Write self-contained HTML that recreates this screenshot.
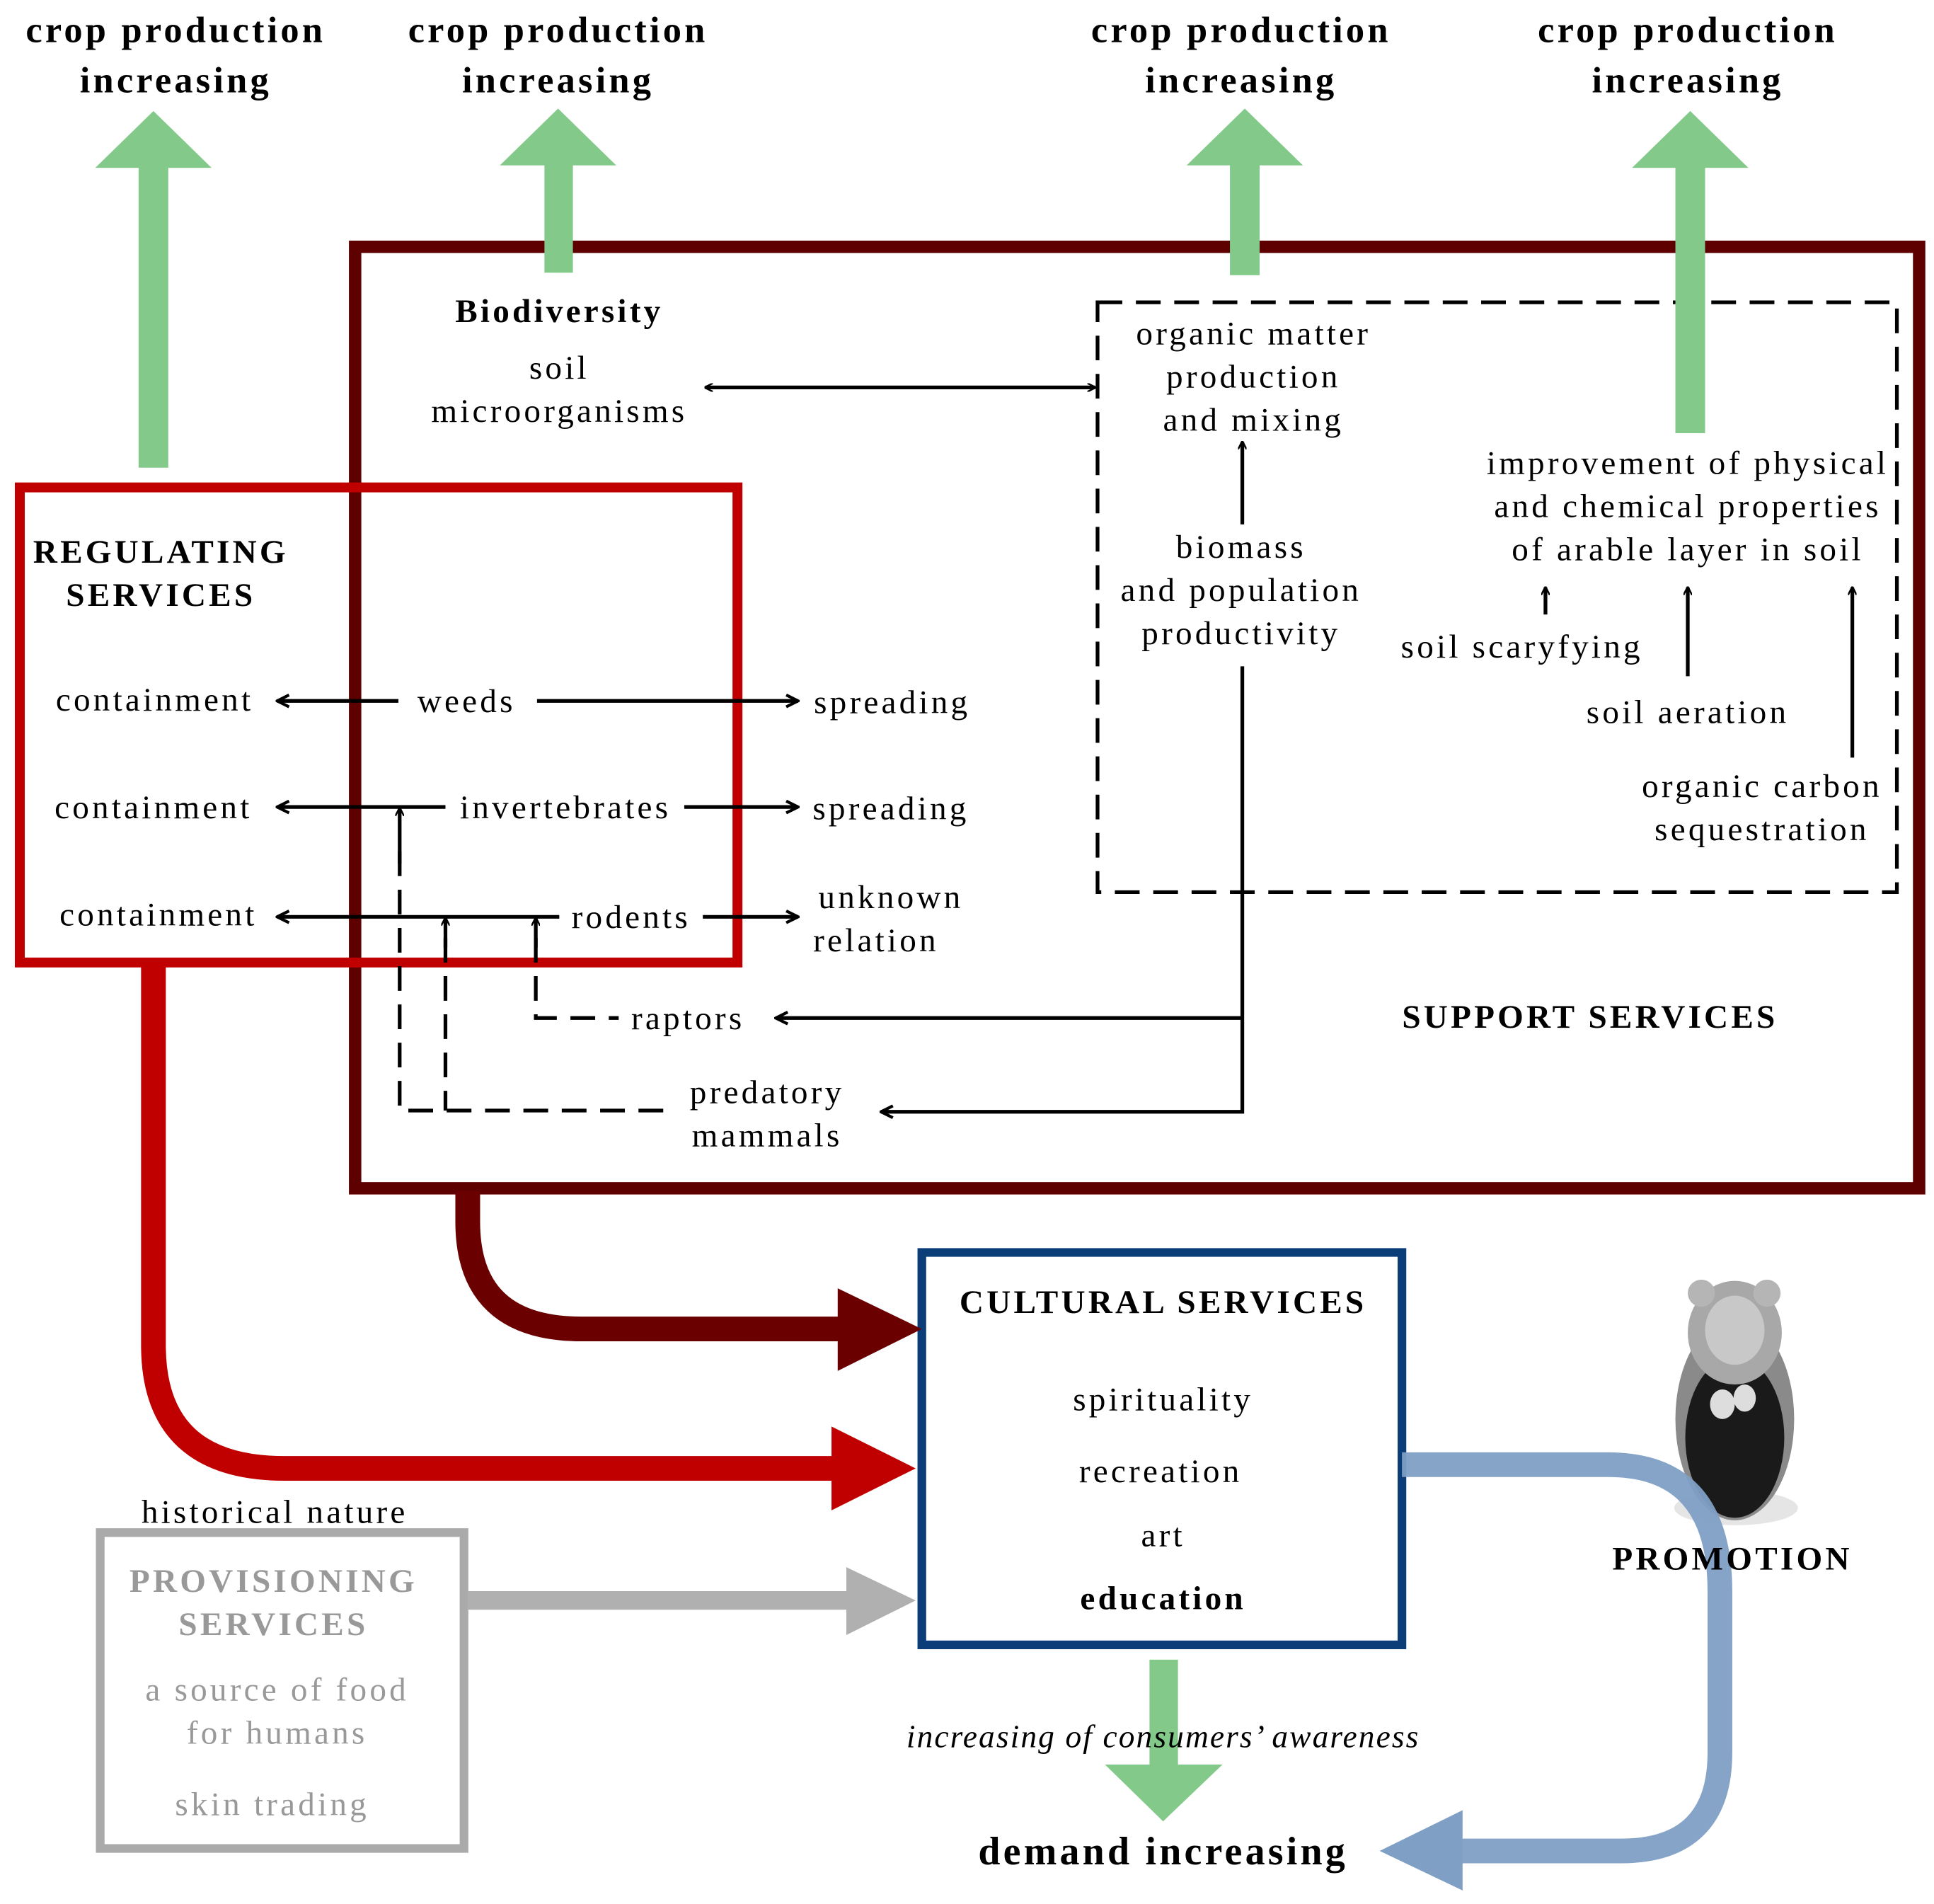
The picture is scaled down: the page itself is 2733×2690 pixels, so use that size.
<!DOCTYPE html>
<html><head><meta charset="utf-8"><style>
html,body{margin:0;padding:0;background:#fff;width:2733px;height:2690px;overflow:hidden}
svg{display:block}
text{font-family:"Liberation Serif",serif;fill:#000;letter-spacing:2.4px}
</style></head><body>
<svg width="2733" height="2690" viewBox="0 0 1563 1543" preserveAspectRatio="none" xmlns="http://www.w3.org/2000/svg">
<defs>
<marker id="ah" viewBox="0 0 10 10" refX="9" refY="5" markerWidth="7" markerHeight="7" orient="auto-start-reverse" markerUnits="userSpaceOnUse"><path d="M0,0 L10,5 L0,10" fill="none" stroke="#000" stroke-width="2"/></marker>
<marker id="ah2" viewBox="0 0 10 10" refX="9" refY="5" markerWidth="12" markerHeight="12" orient="auto-start-reverse" markerUnits="userSpaceOnUse"><path d="M1,1 L9,5 L1,9" fill="none" stroke="#000" stroke-width="2"/></marker>
</defs>

<rect x="287" y="200" width="1264" height="763" fill="none" stroke="#5e0000" stroke-width="10"/>
<rect x="16" y="395" width="580" height="385" fill="none" stroke="#c00000" stroke-width="8"/>
<rect x="887" y="245" width="646" height="478" fill="none" stroke="#000" stroke-width="3" stroke-dasharray="20,11"/>
<rect x="745" y="1015" width="388" height="318" fill="none" stroke="#0b3d78" stroke-width="7"/>
<rect x="81" y="1242" width="294" height="256" fill="none" stroke="#aaa" stroke-width="7"/>

<g fill="#82c98a">
<rect x="112" y="133" width="24" height="246"/><polygon points="77,136 171,136 124,90"/>
<rect x="440" y="131" width="23" height="90"/><polygon points="404,134 498,134 451,88"/>
<rect x="994" y="131" width="24" height="92"/><polygon points="959,134 1053,134 1006,88"/>
<rect x="1354" y="133" width="24" height="218"/><polygon points="1319,136 1413,136 1366,90"/>
<rect x="929" y="1345" width="23" height="88"/><polygon points="893,1430 988,1430 940,1476"/>
</g>

<path d="M124,782 L124,1090 Q124,1190 230,1190 L680,1190" fill="none" stroke="#c00000" stroke-width="20"/>
<polygon points="672,1156 740,1190 672,1224" fill="#c00000"/>
<path d="M378,965 L378,990 Q378,1077 470,1077 L685,1077" fill="none" stroke="#6a0000" stroke-width="20"/>
<polygon points="677,1044 745,1077 677,1111" fill="#6a0000"/>
<path d="M378,1297 L690,1297" fill="none" stroke="#b0b0b0" stroke-width="15"/>
<polygon points="684,1270 740,1297 684,1325" fill="#b0b0b0"/>

<g>
<ellipse cx="1403" cy="1222" rx="50" ry="14" fill="#e5e5e5"/>
<ellipse cx="1402" cy="1150" rx="48" ry="82" fill="#8a8a8a"/>
<ellipse cx="1402" cy="1165" rx="40" ry="65" fill="#1a1a1a"/>
<ellipse cx="1402" cy="1080" rx="38" ry="42" fill="#a8a8a8"/>
<ellipse cx="1402" cy="1078" rx="24" ry="28" fill="#c8c8c8"/>
<circle cx="1375" cy="1048" r="11" fill="#b5b5b5"/><circle cx="1428" cy="1048" r="11" fill="#b5b5b5"/>
<ellipse cx="1392" cy="1138" rx="10" ry="12" fill="#ddd"/><ellipse cx="1410" cy="1133" rx="9" ry="11" fill="#ddd"/>
</g>

<path d="M1133,1187 L1300,1187 Q1390,1187 1390,1290 L1390,1420 Q1390,1500 1310,1500 L1175,1500" fill="none" stroke="#7f9fc4" stroke-width="20" opacity="0.95"/>
<polygon points="1182,1467 1115,1500 1182,1532" fill="#7f9fc4"/>

<g stroke="#000" stroke-width="3" fill="none">
<line x1="570" y1="314" x2="885" y2="314" marker-start="url(#ah)" marker-end="url(#ah)"/>
<line x1="1004" y1="425" x2="1004" y2="358" marker-end="url(#ah)"/>
<line x1="322" y1="568" x2="224" y2="568" marker-end="url(#ah2)"/>
<line x1="434" y1="568" x2="645" y2="568" marker-end="url(#ah2)"/>
<line x1="360" y1="654" x2="224" y2="654" marker-end="url(#ah2)"/>
<line x1="553" y1="654" x2="645" y2="654" marker-end="url(#ah2)"/>
<line x1="452" y1="743" x2="224" y2="743" marker-end="url(#ah2)"/>
<line x1="568" y1="743" x2="645" y2="743" marker-end="url(#ah2)"/>
<polyline points="1004,540 1004,901 712,901" marker-end="url(#ah2)"/>
<line x1="1004" y1="825" x2="627" y2="825" marker-end="url(#ah2)"/>
<line x1="1249" y1="498" x2="1249" y2="476" marker-end="url(#ah)"/>
<line x1="1364" y1="548" x2="1364" y2="476" marker-end="url(#ah)"/>
<line x1="1497" y1="614" x2="1497" y2="476" marker-end="url(#ah)"/>
<line x1="323" y1="700" x2="323" y2="655" marker-end="url(#ah)"/>
<line x1="360" y1="768" x2="360" y2="744" marker-end="url(#ah)"/>
<line x1="433" y1="768" x2="433" y2="744" marker-end="url(#ah)"/>
</g>
<g stroke="#000" stroke-width="3" fill="none" stroke-dasharray="20,11">
<polyline points="323,690 323,900 545,900"/>
<polyline points="360,760 360,900"/>
<polyline points="433,760 433,825 500,825"/>
</g>

<g font-size="30" font-weight="bold" text-anchor="middle">
<text x="142" y="34">crop production</text><text x="142" y="75">increasing</text>
<text x="451" y="34">crop production</text><text x="451" y="75">increasing</text>
<text x="1003" y="34">crop production</text><text x="1003" y="75">increasing</text>
<text x="1364" y="34">crop production</text><text x="1364" y="75">increasing</text>
</g>
<g font-size="27" text-anchor="middle">
<text x="452" y="261" font-weight="bold">Biodiversity</text>
<text x="452" y="307">soil</text>
<text x="452" y="342">microorganisms</text>
<text x="1013" y="279">organic matter</text>
<text x="1013" y="314">production</text>
<text x="1013" y="349">and mixing</text>
<text x="1003" y="452">biomass</text>
<text x="1003" y="487">and population</text>
<text x="1003" y="522">productivity</text>
<text x="1364" y="384">improvement of physical</text>
<text x="1364" y="419">and chemical properties</text>
<text x="1364" y="454">of arable layer in soil</text>
<text x="1230" y="533">soil scaryfying</text>
<text x="1364" y="586">soil aeration</text>
<text x="1424" y="646">organic carbon</text>
<text x="1424" y="681">sequestration</text>
<text x="1285" y="833" font-weight="bold">SUPPORT SERVICES</text>
<text x="130" y="456" font-weight="bold">REGULATING</text>
<text x="130" y="491" font-weight="bold">SERVICES</text>
<text x="125" y="576">containment</text>
<text x="124" y="663">containment</text>
<text x="128" y="750">containment</text>
<text x="377" y="577">weeds</text>
<text x="457" y="663">invertebrates</text>
<text x="510" y="752">rodents</text>
<text x="556" y="834">raptors</text>
<text x="721" y="578">spreading</text>
<text x="720" y="664">spreading</text>
<text x="720" y="736">unknown</text>
<text x="708" y="771">relation</text>
<text x="620" y="894">predatory</text>
<text x="620" y="929">mammals</text>
<text x="940" y="1064" font-weight="bold">CULTURAL SERVICES</text>
<text x="940" y="1143">spirituality</text>
<text x="938" y="1201">recreation</text>
<text x="940" y="1253">art</text>
<text x="940" y="1304" font-weight="bold">education</text>
<text x="222" y="1234">historical nature</text>
<text x="1400" y="1272" font-weight="bold">PROMOTION</text>
<text x="940" y="1416" font-style="italic" font-size="26" style="letter-spacing:1.2px">increasing of consumers’ awareness</text>
<text x="940" y="1511" font-weight="bold" font-size="32">demand increasing</text>
</g>
<g font-size="27" text-anchor="middle">
<text x="221" y="1290" font-weight="bold" style="fill:#999">PROVISIONING</text>
<text x="221" y="1325" font-weight="bold" style="fill:#999">SERVICES</text>
<text x="224" y="1378" style="fill:#999">a source of food</text>
<text x="224" y="1413" style="fill:#999">for humans</text>
<text x="220" y="1471" style="fill:#999">skin trading</text>
</g>
</svg>
</body></html>
